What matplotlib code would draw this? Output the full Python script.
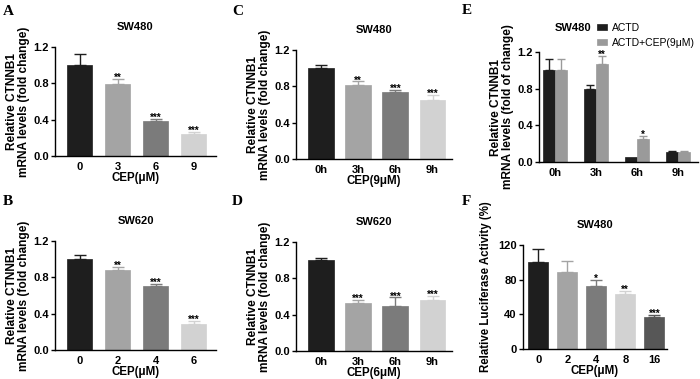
import numpy as np
import matplotlib.pyplot as plt

plt.rcParams['font.family'] = ['Liberation Sans', 'DejaVu Sans']
plt.rcParams['font.weight'] = 'bold'

# panel data
a_labels = ['0', '3', '6', '9']
a_means = [1.0, 0.79, 0.39, 0.245]
a_err = [0.12, 0.055, 0.015, 0.02]
a_stars = ['', '**', '***', '***']

b_labels = ['0', '2', '4', '6']
b_means = [1.0, 0.878, 0.71, 0.284]
b_err = [0.045, 0.04, 0.022, 0.04]
b_stars = ['', '**', '***', '***']

c_labels = ['0h', '3h', '6h', '9h']
c_means = [1.0, 0.815, 0.735, 0.655]
c_err = [0.03, 0.04, 0.03, 0.05]
c_stars = ['', '**', '***', '***']

d_labels = ['0h', '3h', '6h', '9h']
d_means = [1.0, 0.525, 0.49, 0.565]
d_err = [0.02, 0.035, 0.1, 0.04]
d_stars = ['', '***', '***', '***']

e_labels = ['0h', '3h', '6h', '9h']
e_actd = [1.0, 0.80, 0.06, 0.11]
e_actd_err = [0.12, 0.04, 0.0, 0.01]
e_cep = [1.0, 1.07, 0.255, 0.105]
e_cep_err = [0.12, 0.09, 0.03, 0.01]
e_stars = ['', '**', '*', '']

f_labels = ['0', '2', '4', '8', '16']
f_means = [100, 89, 73, 63, 37]
f_err = [15, 13, 7, 4.5, 2]
f_stars = ['', '', '*', '**', '***']

grays4 = ['#1e1e1e', '#a4a4a4', '#7b7b7b', '#d2d2d2']
grays5 = ['#1e1e1e', '#a4a4a4', '#7b7b7b', '#d2d2d2', '#575757']

W, H = 700, 379
fig = plt.figure(figsize=(7, 3.79), dpi=100)


def make_ax(left, right, top, bottom):
    ax = fig.add_axes([left / W, 1 - bottom / H, (right - left) / W, (bottom - top) / H])
    ax.spines['top'].set_visible(False)
    ax.spines['right'].set_visible(False)
    for s in ('left', 'bottom'):
        ax.spines[s].set_linewidth(1.0)
    ax.tick_params(axis='y', length=3, width=1, labelsize=8, pad=1.5)
    ax.tick_params(axis='x', length=0, labelsize=8, pad=4)
    return ax


def star(ax, x, y, s):
    ax.annotate(s, (x, y), xytext=(0, -1.5), textcoords='offset points', ha='center',
                va='baseline', fontsize=7, fontweight='bold')


def bar_panel(ax, labels, means, err, stars, colors, width, xlim, ylim, yticks, ylabel, xlabel, title):
    x = np.arange(len(labels))
    ax.bar(x, means, width=width, color=colors, edgecolor=colors, linewidth=0.5, zorder=2)
    for xi, m, e, c, s in zip(x, means, err, colors, stars):
        if e > 0:
            ax.errorbar(xi, m, yerr=[[0], [e]], color=c, capsize=width * 6.5, elinewidth=1, capthick=1, zorder=1)
        if s:
            star(ax, xi, m + e, s)
    ax.set_xlim(*xlim)
    ax.set_ylim(*ylim)
    ax.set_yticks(yticks)
    ax.set_xticks(x)
    ax.set_xticklabels(labels)
    ax.set_ylabel(ylabel, fontsize=8.6, fontweight='bold', labelpad=2, linespacing=1.05)
    ax.set_xlabel(xlabel, fontsize=8.3, fontweight='bold', labelpad=0.5)
    ax.set_title(title, fontsize=8, fontweight='bold', pad=12)


ylab = 'Relative CTNNB1\nmRNA levels (fold change)'
yt = [0.0, 0.4, 0.8, 1.2]
ytl = ['0.0', '0.4', '0.8', '1.2']

axA = make_ax(55, 216, 47, 156)
bar_panel(axA, a_labels, a_means, a_err, a_stars, grays4, 0.66, (-0.65, 3.58), (0, 1.2), yt,
          ylab, 'CEP(μM)', 'SW480')
axA.set_yticklabels(ytl)

axB = make_ax(55, 216, 241, 350)
bar_panel(axB, b_labels, b_means, b_err, b_stars, grays4, 0.66, (-0.65, 3.58), (0, 1.2), yt,
          ylab, 'CEP(μM)', 'SW620')
axB.set_yticklabels(ytl)

axC = make_ax(296, 452, 50, 159)
bar_panel(axC, c_labels, c_means, c_err, c_stars, grays4, 0.69, (-0.66, 3.52), (0, 1.2), yt,
          ylab, 'CEP(9μM)', 'SW480')
axC.set_yticklabels(ytl)

axD = make_ax(296, 452, 242, 351)
bar_panel(axD, d_labels, d_means, d_err, d_stars, grays4, 0.69, (-0.66, 3.52), (0, 1.2), yt,
          ylab, 'CEP(6μM)', 'SW620')
axD.set_yticklabels(ytl)

# panel E: grouped bars
axE = make_ax(539, 698, 52, 162)
xe = np.arange(len(e_labels))
bw = 0.3
axE.bar(xe - bw / 2, e_actd, width=bw, color='#1e1e1e', edgecolor='#1e1e1e', linewidth=0.5,
        label='ACTD', zorder=2)
axE.bar(xe + bw / 2, e_cep, width=bw, color='#9a9a9a', edgecolor='#9a9a9a', linewidth=0.5,
        label='ACTD+CEP(9μM)', zorder=2)
for xi, m, e in zip(xe - bw / 2, e_actd, e_actd_err):
    if e > 0:
        axE.errorbar(xi, m, yerr=[[0], [e]], color='#1e1e1e', capsize=2.8, elinewidth=1, capthick=1, zorder=1)
for xi, m, e, s in zip(xe + bw / 2, e_cep, e_cep_err, e_stars):
    if e > 0:
        axE.errorbar(xi, m, yerr=[[0], [e]], color='#9a9a9a', capsize=2.8, elinewidth=1, capthick=1, zorder=1)
    if s:
        star(axE, xi, m + e, s)
axE.set_xlim(-0.39, 3.49)
axE.set_ylim(0, 1.2)
axE.set_yticks(yt)
axE.set_yticklabels(ytl)
axE.set_xticks(xe)
axE.set_xticklabels(e_labels)
axE.set_ylabel('Relative CTNNB1\nmRNA levels (fold of change)', fontsize=8.6, fontweight='bold',
               labelpad=2, linespacing=1.05)
axE.text(0.215, 1.215, 'SW480', transform=axE.transAxes, ha='center', va='center',
         fontsize=8, fontweight='bold')
axE.legend(loc='upper left', bbox_to_anchor=(0.365, 1.265), frameon=False,
           handlelength=1.0, handleheight=0.6, handletextpad=0.45, labelspacing=0.45,
           borderaxespad=0, borderpad=0, prop={'weight': 'normal', 'size': 7.5})

# panel F
axF = make_ax(523, 667, 245, 349)
bar_panel(axF, f_labels, f_means, f_err, f_stars, grays5, 0.69, (-0.53, 4.44), (0, 120),
          [0, 40, 80, 120], 'Relative Luciferase Activity (%)', 'CEP(μM)', 'SW480')
axF.yaxis.label.set_fontsize(8.3)
axF.yaxis.set_label_coords(-0.215, 0.6)

# panel letters
for letter, (px, py) in zip('ABCDEF', [(3, 15), (3, 205), (232, 15), (232, 205), (462, 14), (462, 205)]):
    fig.text(px / W, 1 - py / H, letter, fontsize=11, fontweight='bold',
             family=['Liberation Serif', 'DejaVu Serif'], va='baseline')

fig.savefig('out.png', dpi=100)
